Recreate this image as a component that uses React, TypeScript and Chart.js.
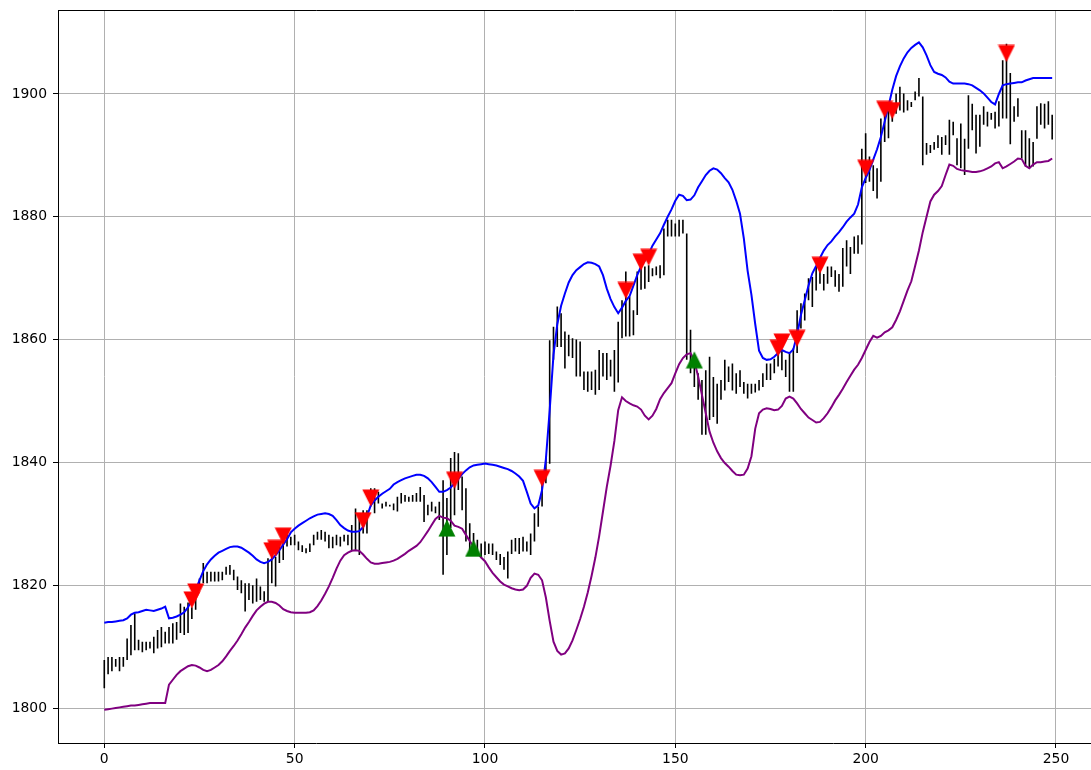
import React, { useEffect, useRef } from "react";
import { Chart, registerables } from "chart.js";

Chart.register(...registerables);

// Price bars: per-bar high and low
const barHigh = [
  1807.8, 1808.3, 1808.3, 1808.0, 1808.3, 1808.3, 1811.3, 1813.5, 1815.4, 1811.1, 1810.8, 1810.8, 1810.8, 1811.6, 1812.7, 1813.2, 1812.4, 1813.2, 1813.8, 1814.0, 1817.0, 1816.5, 1817.2, 1816.4, 1819.5,
  1821.1, 1823.6, 1822.2, 1822.2, 1822.2, 1822.2, 1822.2, 1823.0, 1823.3, 1822.5, 1821.4, 1820.8, 1820.3, 1820.3, 1820.0, 1821.1, 1819.8, 1819.0, 1824.4, 1825.2, 1824.6, 1826.3, 1828.4, 1828.2, 1827.9,
  1828.2, 1827.1, 1826.5, 1826.0, 1826.8, 1828.2, 1828.7, 1829.0, 1828.7, 1828.2, 1827.9, 1828.2, 1827.9, 1828.2, 1828.2, 1829.8, 1832.5, 1830.9, 1832.2, 1832.2, 1835.8, 1835.8, 1835.2, 1833.3, 1833.6,
  1833.1, 1833.3, 1834.4, 1835.0, 1834.7, 1834.4, 1834.7, 1835.0, 1836.0, 1834.7, 1833.1, 1833.6, 1832.8, 1833.6, 1837.1, 1834.2, 1840.7, 1841.7, 1841.5, 1837.7, 1835.8, 1830.1, 1828.5, 1827.4, 1826.8,
  1827.1, 1826.8, 1826.8, 1825.5, 1825.1, 1824.6, 1825.5, 1827.4, 1827.7, 1827.7, 1827.9, 1827.1, 1828.4, 1831.7, 1832.8, 1836.6, 1840.9, 1859.9, 1862.1, 1865.4, 1864.3, 1861.3, 1860.8, 1860.2, 1860.0,
  1859.7, 1854.8, 1854.8, 1854.8, 1855.1, 1858.3, 1857.8, 1857.8, 1856.7, 1858.3, 1862.9, 1866.4, 1871.1, 1867.0, 1864.8, 1871.1, 1872.1, 1871.9, 1872.1, 1871.6, 1871.9, 1872.1, 1878.1, 1879.5, 1879.5,
  1878.9, 1879.5, 1879.5, 1877.3, 1861.6, 1856.7, 1854.5, 1853.4, 1855.0, 1857.2, 1853.9, 1852.8, 1853.4, 1856.7, 1855.6, 1856.1, 1854.5, 1855.0, 1853.1, 1852.8, 1852.8, 1852.8, 1853.4, 1854.5, 1856.1,
  1856.1, 1856.9, 1858.6, 1858.3, 1856.7, 1858.0, 1858.6, 1864.8, 1865.9, 1867.5, 1870.0, 1870.2, 1871.9, 1873.0, 1870.7, 1871.9, 1871.9, 1871.3, 1870.7, 1874.9, 1876.2, 1875.1, 1876.8, 1877.0, 1891.1,
  1893.6, 1889.8, 1888.4, 1887.9, 1896.0, 1897.9, 1897.3, 1898.2, 1900.1, 1901.2, 1900.1, 1899.0, 1898.7, 1900.4, 1902.6, 1899.6, 1892.0, 1891.7, 1892.2, 1893.3, 1893.0, 1893.3, 1895.8, 1895.5, 1892.8,
  1895.2, 1892.7, 1899.8, 1898.4, 1896.6, 1896.6, 1898.0, 1897.1, 1896.9, 1897.1, 1898.8, 1905.5, 1908.2, 1903.4, 1898.0, 1899.3, 1894.1, 1894.1, 1892.8, 1892.2, 1898.0, 1898.5, 1898.4, 1898.8, 1896.6,
];

const barLow = [
  1803.2, 1805.5, 1806.0, 1806.7, 1806.0, 1806.7, 1807.8, 1808.6, 1809.4, 1809.4, 1809.1, 1809.4, 1809.7, 1808.9, 1809.7, 1809.9, 1810.5, 1810.5, 1810.5, 1811.1, 1812.2, 1811.9, 1812.2, 1814.5, 1816.0,
  1820.0, 1820.3, 1820.3, 1820.6, 1820.6, 1820.6, 1820.8, 1821.7, 1821.7, 1820.8, 1819.2, 1818.7, 1815.7, 1817.6, 1817.0, 1817.3, 1817.6, 1817.3, 1817.3, 1820.3, 1819.8, 1823.6, 1824.1, 1826.3, 1826.5,
  1826.5, 1825.7, 1825.4, 1825.2, 1825.4, 1826.5, 1827.4, 1827.4, 1827.1, 1826.0, 1826.0, 1826.5, 1826.3, 1827.1, 1826.5, 1825.7, 1825.7, 1824.9, 1828.4, 1828.4, 1832.8, 1831.7, 1833.3, 1832.5, 1832.8,
  1832.8, 1832.2, 1832.0, 1833.3, 1833.6, 1833.6, 1833.6, 1833.6, 1833.6, 1830.3, 1831.4, 1832.0, 1831.7, 1830.6, 1821.7, 1824.9, 1829.3, 1831.4, 1835.5, 1832.2, 1827.1, 1825.5, 1825.2, 1825.2, 1824.6,
  1824.9, 1825.1, 1824.9, 1824.1, 1823.3, 1822.5, 1821.1, 1825.1, 1825.5, 1825.1, 1825.5, 1825.5, 1824.9, 1827.1, 1829.5, 1832.8, 1836.6, 1839.8, 1856.7, 1858.8, 1858.8, 1855.3, 1857.3, 1857.0, 1854.0,
  1854.0, 1851.8, 1851.5, 1851.8, 1851.0, 1851.8, 1854.0, 1853.4, 1854.0, 1851.5, 1853.0, 1860.2, 1860.5, 1860.5, 1860.7, 1864.0, 1868.1, 1868.3, 1869.4, 1870.3, 1870.5, 1870.0, 1870.5, 1876.8, 1876.8,
  1876.8, 1876.8, 1877.3, 1856.7, 1854.5, 1852.3, 1850.2, 1844.5, 1844.5, 1846.9, 1847.4, 1846.3, 1850.2, 1851.7, 1853.1, 1851.7, 1851.2, 1852.3, 1851.2, 1850.4, 1851.2, 1851.4, 1851.7, 1852.3, 1853.4,
  1853.4, 1854.5, 1855.6, 1855.0, 1853.9, 1851.5, 1851.5, 1857.8, 1861.8, 1863.1, 1866.4, 1865.3, 1868.0, 1869.1, 1868.0, 1869.1, 1870.2, 1868.6, 1867.8, 1868.6, 1871.9, 1870.7, 1874.0, 1874.0, 1875.5,
  1885.5, 1885.7, 1884.2, 1883.0, 1885.7, 1892.2, 1892.8, 1895.5, 1896.8, 1897.3, 1897.0, 1897.3, 1897.9, 1899.0, 1899.6, 1888.4, 1890.1, 1890.4, 1890.9, 1891.2, 1890.1, 1891.7, 1890.1, 1893.3, 1888.4,
  1887.9, 1886.8, 1891.1, 1894.1, 1890.3, 1891.4, 1895.0, 1894.7, 1895.8, 1894.4, 1894.7, 1896.0, 1896.0, 1891.8, 1895.5, 1896.3, 1889.5, 1888.2, 1887.9, 1888.2, 1892.7, 1895.0, 1894.4, 1895.0, 1892.6,
];

// Channel boundaries
const upperBand = [
  1813.9, 1814.0, 1814.0, 1814.1, 1814.2, 1814.3, 1814.6, 1815.2, 1815.5, 1815.6, 1815.8, 1816.0, 1815.9, 1815.8, 1816.0, 1816.2, 1816.5, 1814.6, 1814.7, 1814.9, 1815.2, 1815.6, 1816.4, 1817.6, 1819.2,
  1820.8, 1822.3, 1823.4, 1824.2, 1824.8, 1825.3, 1825.6, 1825.9, 1826.2, 1826.3, 1826.3, 1826.1, 1825.7, 1825.3, 1824.8, 1824.2, 1823.8, 1823.6, 1823.8, 1824.2, 1824.9, 1825.7, 1826.6, 1827.5, 1828.6,
  1829.2, 1829.7, 1830.1, 1830.5, 1830.9, 1831.2, 1831.5, 1831.6, 1831.7, 1831.6, 1831.3, 1830.6, 1829.8, 1829.3, 1828.9, 1828.7, 1828.7, 1828.8, 1829.5, 1831.2, 1833.0, 1833.8, 1834.4, 1834.9, 1835.3,
  1835.7, 1836.4, 1836.8, 1837.1, 1837.4, 1837.6, 1837.8, 1838.0, 1838.0, 1837.8, 1837.4, 1836.8, 1836.0, 1835.2, 1835.2, 1835.5, 1835.9, 1836.6, 1837.3, 1838.1, 1838.7, 1839.2, 1839.5, 1839.6, 1839.7,
  1839.8, 1839.7, 1839.6, 1839.5, 1839.3, 1839.1, 1838.9, 1838.6, 1838.2, 1837.7, 1837.0, 1835.2, 1833.3, 1832.5, 1833.0, 1835.5, 1840.5, 1848.5, 1857.5, 1862.5, 1865.5, 1867.5, 1869.3, 1870.5, 1871.3,
  1871.8, 1872.3, 1872.6, 1872.5, 1872.3, 1871.9, 1870.5, 1868.3, 1866.6, 1865.3, 1864.3, 1865.2, 1866.3, 1867.1, 1868.8, 1870.5, 1871.9, 1872.9, 1873.9, 1875.3, 1876.3, 1877.3, 1878.7, 1880.0, 1881.2,
  1882.6, 1883.6, 1883.4, 1882.7, 1882.8, 1883.5, 1884.8, 1885.8, 1886.8, 1887.5, 1887.9, 1887.7, 1887.1, 1886.3, 1885.6, 1884.4, 1882.6, 1880.5, 1876.5, 1871.2, 1867.3, 1862.5, 1858.2, 1857.0, 1856.7,
  1856.8, 1857.2, 1857.8, 1858.3, 1858.0, 1857.8, 1858.4, 1860.8, 1864.0, 1866.4, 1868.8, 1870.8, 1872.0, 1873.3, 1874.5, 1875.4, 1876.0, 1876.8, 1877.5, 1878.3, 1879.2, 1879.9, 1880.5, 1882.0, 1884.8,
  1886.3, 1887.6, 1889.3, 1891.0, 1893.0, 1895.5, 1898.0, 1900.7, 1902.9, 1904.5, 1905.8, 1906.8, 1907.5, 1908.0, 1908.4, 1907.6, 1906.3, 1904.7, 1903.6, 1903.3, 1903.1, 1902.7, 1902.0, 1901.7, 1901.7,
  1901.7, 1901.7, 1901.6, 1901.4, 1901.0, 1900.6, 1900.1, 1899.4, 1898.7, 1898.3, 1900.0, 1901.4, 1901.6, 1901.7, 1901.8, 1901.9, 1901.9, 1902.2, 1902.4, 1902.6, 1902.6, 1902.6, 1902.6, 1902.6, 1902.6,
];

const lowerBand = [
  1799.7, 1799.8, 1799.9, 1800.0, 1800.1, 1800.2, 1800.3, 1800.4, 1800.4, 1800.5, 1800.6, 1800.7, 1800.8, 1800.8, 1800.8, 1800.8, 1800.8, 1803.8, 1804.6, 1805.4, 1806.0, 1806.4, 1806.8, 1807.0, 1806.9,
  1806.6, 1806.2, 1806.0, 1806.2, 1806.6, 1807.0, 1807.6, 1808.4, 1809.3, 1810.1, 1811.0, 1812.0, 1813.1, 1814.0, 1815.0, 1815.9, 1816.5, 1817.0, 1817.3, 1817.3, 1817.1, 1816.7, 1816.1, 1815.8, 1815.6,
  1815.5, 1815.5, 1815.5, 1815.5, 1815.6, 1815.9, 1816.6, 1817.5, 1818.6, 1819.8, 1821.2, 1822.7, 1824.0, 1824.9, 1825.3, 1825.6, 1825.7, 1825.6, 1825.0, 1824.3, 1823.7, 1823.5, 1823.5, 1823.6, 1823.7,
  1823.8, 1824.0, 1824.3, 1824.7, 1825.1, 1825.6, 1826.0, 1826.4, 1827.0, 1827.9, 1828.8, 1829.8, 1830.8, 1831.3, 1831.0, 1830.9, 1830.5, 1829.7, 1829.5, 1829.2, 1828.2, 1827.2, 1826.3, 1825.3, 1824.5,
  1823.9, 1822.9, 1822.0, 1821.3, 1820.6, 1820.1, 1819.8, 1819.5, 1819.3, 1819.2, 1819.3, 1819.9, 1821.2, 1821.9, 1821.7, 1820.8, 1818.0, 1814.2, 1810.8, 1809.3, 1808.7, 1808.9, 1809.7, 1811.0, 1812.7,
  1814.5, 1816.5, 1818.8, 1821.5, 1824.5, 1828.0, 1832.0, 1836.0, 1839.5, 1843.5, 1848.5, 1850.6, 1850.0, 1849.6, 1849.3, 1849.1, 1848.6, 1847.6, 1847.0, 1847.6, 1848.7, 1850.3, 1851.3, 1852.1, 1852.9,
  1854.5, 1856.0, 1857.0, 1857.6, 1857.8, 1856.5, 1854.0, 1851.0, 1848.0, 1845.0, 1843.2, 1841.8, 1840.7, 1839.9, 1839.3, 1838.6, 1838.0, 1837.9, 1838.0, 1839.0, 1841.0, 1845.5, 1848.0, 1848.6, 1848.8,
  1848.7, 1848.5, 1848.6, 1849.2, 1850.4, 1850.7, 1850.4, 1849.6, 1848.7, 1848.0, 1847.3, 1846.9, 1846.5, 1846.6, 1847.2, 1848.0, 1849.0, 1850.1, 1851.0, 1852.0, 1853.1, 1854.1, 1855.1, 1855.9, 1857.0,
  1858.3, 1859.6, 1860.6, 1860.3, 1860.6, 1861.2, 1861.5, 1862.0, 1863.2, 1864.6, 1866.3, 1868.0, 1869.5, 1872.0, 1874.5, 1877.5, 1880.0, 1882.5, 1883.6, 1884.2, 1885.0, 1886.8, 1888.5, 1888.3, 1887.8,
  1887.6, 1887.5, 1887.4, 1887.3, 1887.3, 1887.4, 1887.6, 1887.9, 1888.2, 1888.7, 1888.9, 1887.9, 1888.2, 1888.6, 1889.0, 1889.5, 1889.4, 1888.3, 1887.9, 1888.5, 1888.9, 1888.9, 1889.0, 1889.1, 1889.5,
];

// Signals as [bar index, price]
const sellSignals = [
  [23, 1817.6], [24, 1818.9], [44, 1825.6], [45, 1826.0], [47, 1828.0],
  [68, 1830.5], [70, 1834.2], [92, 1837.1], [115, 1837.4], [137, 1868.0],
  [141, 1872.6], [143, 1873.4], [177, 1858.6], [178, 1859.6], [182, 1860.2],
  [188, 1872.1], [200, 1887.9], [205, 1897.5], [207, 1897.3], [237, 1906.6],
];
const buySignals = [
  [90, 1829.3], [97, 1826.0], [155, 1856.7],
];

const xTickValues = [0, 50, 100, 150, 200, 250];
const yTickValues = [1800, 1820, 1840, 1860, 1880, 1900];

const X_MIN = -12.16;
const X_MAX = 259.2;
const Y_MIN = 1794.3;
const Y_MAX = 1913.68;

function triangleMarker(color: string, pointingDown: boolean, size = 18) {
  const c = document.createElement("canvas");
  c.width = size;
  c.height = size;
  const g = c.getContext("2d")!;
  g.fillStyle = color;
  g.beginPath();
  if (pointingDown) {
    g.moveTo(0.5, 0.5);
    g.lineTo(size - 0.5, 0.5);
    g.lineTo(size / 2, size - 0.5);
  } else {
    g.moveTo(size / 2, 0.5);
    g.lineTo(size - 0.5, size - 0.5);
    g.lineTo(0.5, size - 0.5);
  }
  g.closePath();
  g.fill();
  return c;
}

const tickFont = { family: "'DejaVu Sans', sans-serif", size: 13.9 };

// keep the plot area exactly where the axes sizes put it
function noLabelOverhang(scale: any) {
  scale.paddingTop = 0;
  scale.paddingBottom = 0;
  scale.paddingLeft = 0;
  scale.paddingRight = 0;
}

// top spine of the plot frame
const topSpine = {
  id: "topSpine",
  afterDraw(chart: any) {
    const { ctx, chartArea } = chart;
    ctx.save();
    ctx.strokeStyle = "#000";
    ctx.lineWidth = 1;
    ctx.beginPath();
    ctx.moveTo(chartArea.left, Math.round(chartArea.top) + 0.5);
    ctx.lineTo(chartArea.right, Math.round(chartArea.top) + 0.5);
    ctx.stroke();
    ctx.restore();
  },
};

export default function App() {
  const canvasRef = useRef<HTMLCanvasElement | null>(null);

  useEffect(() => {
    if (!canvasRef.current) return;

    // vertical high-low segments, separated by gaps
    const rangeSegments: any[] = [];
    for (let i = 0; i < barHigh.length; i++) {
      rangeSegments.push({ x: i, y: barLow[i] }, { x: i, y: barHigh[i] }, { x: i, y: null });
    }
    const upperPts = upperBand.map((y, i) => ({ x: i, y }));
    const lowerPts = lowerBand.map((y, i) => ({ x: i, y }));
    const sellPts = sellSignals.map(([x, y]) => ({ x, y }));
    const buyPts = buySignals.map(([x, y]) => ({ x, y }));

    const sellIcon = triangleMarker("#ff0000", true);
    const buyIcon = triangleMarker("#008000", false);

    const chart = new Chart(canvasRef.current, {
      type: "line",
      plugins: [topSpine],
      data: {
        datasets: [
          {
            label: "sell",
            type: "scatter",
            data: sellPts,
            xAxisID: "x",
            yAxisID: "y",
            pointStyle: sellIcon,
            pointRadius: 9,
            showLine: false,
            order: 0,
          },
          {
            label: "buy",
            type: "scatter",
            data: buyPts,
            xAxisID: "x",
            yAxisID: "y",
            pointStyle: buyIcon,
            pointRadius: 9,
            showLine: false,
            order: 0,
          },
          {
            label: "lower",
            data: lowerPts,
            xAxisID: "x",
            yAxisID: "y",
            borderColor: "#800080",
            borderWidth: 2,
            pointRadius: 0,
            tension: 0,
            fill: false,
            order: 1,
          },
          {
            label: "upper",
            data: upperPts,
            xAxisID: "x",
            yAxisID: "y",
            borderColor: "#0000ff",
            borderWidth: 2,
            pointRadius: 0,
            tension: 0,
            fill: false,
            order: 1,
          },
          {
            label: "range",
            data: rangeSegments,
            xAxisID: "x",
            yAxisID: "y",
            borderColor: "#000000",
            borderWidth: 1.6,
            pointRadius: 0,
            spanGaps: false,
            tension: 0,
            fill: false,
            order: 2,
          },
        ],
      },
      options: {
        animation: false,
        responsive: false,
        events: [],
        layout: { autoPadding: false, padding: { top: 10, left: 0, right: 0, bottom: 0 } },
        plugins: {
          legend: { display: false },
          tooltip: { enabled: false },
        },
        scales: {
          x: {
            type: "linear",
            position: "bottom",
            min: X_MIN,
            max: X_MAX,
            afterBuildTicks: (scale: any) => {
              scale.ticks = xTickValues.map((value) => ({ value }));
            },
            afterFit: (scale: any) => {
              scale.height = 27;
              noLabelOverhang(scale);
            },
            grid: { color: "#b0b0b0", lineWidth: 1, tickColor: "#000", tickLength: 5, tickWidth: 1 },
            border: { display: true, color: "#000", width: 1 },
            ticks: {
              color: "#000",
              font: tickFont,
              padding: 3,
              maxRotation: 0,
              autoSkip: false,
              callback: (v: any) => String(v),
            },
          },
          y: {
            type: "linear",
            position: "left",
            min: Y_MIN,
            max: Y_MAX,
            afterBuildTicks: (scale: any) => {
              scale.ticks = yTickValues.map((value) => ({ value }));
            },
            afterFit: (scale: any) => {
              scale.width = 58;
              noLabelOverhang(scale);
            },
            grid: { color: "#b0b0b0", lineWidth: 1, tickColor: "#000", tickLength: 5, tickWidth: 1 },
            border: { display: true, color: "#000", width: 1 },
            ticks: {
              color: "#000",
              font: tickFont,
              padding: 6,
              autoSkip: false,
              callback: (v: any) => String(v),
            },
          },
        },
      } as any,
    });

    return () => {
      chart.destroy();
    };
  }, []);

  return (
    <div style={{ position: "fixed", left: 0, top: 0, width: 1091, height: 770, background: "#fff" }}>
      <canvas ref={canvasRef} width={1091} height={770} style={{ display: "block" }} />
    </div>
  );
}
